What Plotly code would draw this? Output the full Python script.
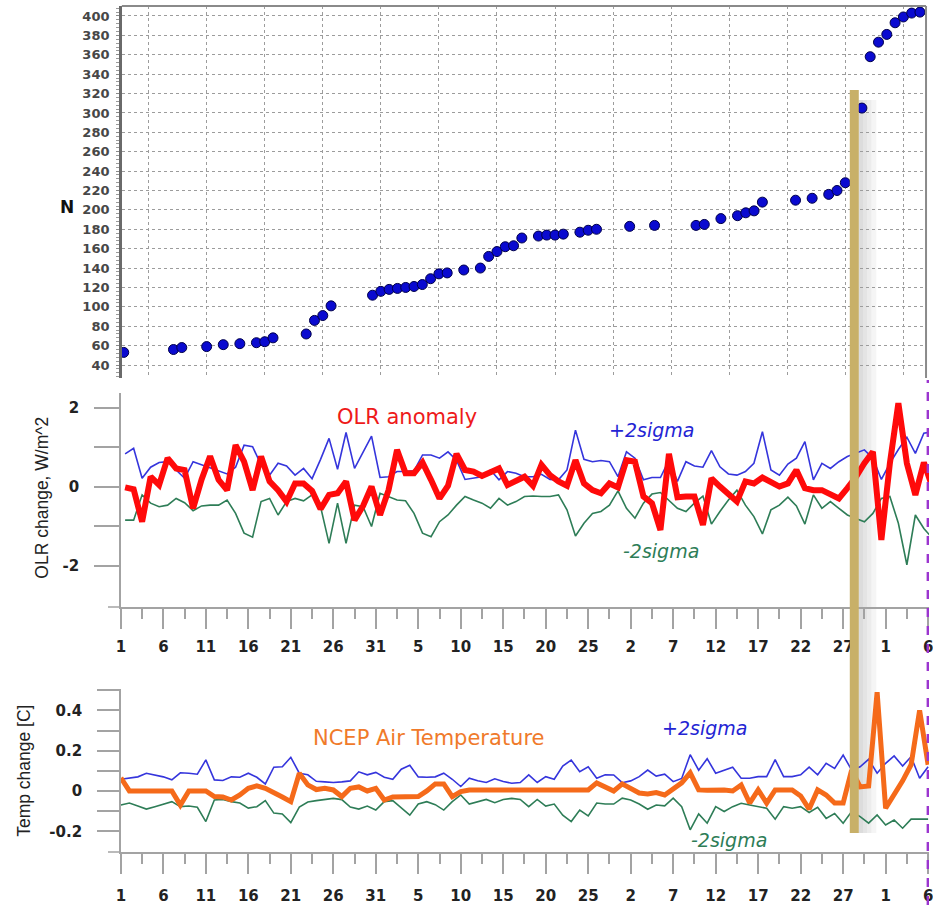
import pandas as pd
import plotly.graph_objects as go

START = "2011-01-01"
EVENT = "2011-03-28 07:30"      # marked event (gold bar)
LAST_TICK = "2011-04-06"        # dashed purple marker

# ---- cumulative event count N (day number, count) ----
count_day = [1, 7, 8, 11, 13, 15, 17, 18, 19,
             23, 24, 25, 26,
             31, 32, 33, 34, 35, 36, 37, 38, 39, 40,
             42, 44, 45, 46, 47, 48, 49,
             51, 52, 53, 54, 56, 57, 58,
             62, 65, 70, 71, 73, 75, 76, 77, 78,
             82, 84, 86, 87, 88,
             90, 91, 92, 93, 94, 95, 96, 97]
count_n = [53, 56, 58, 59, 61, 62, 63, 64, 68,
           72, 86, 91, 101,
           112, 116, 118, 119, 120, 121, 123, 129, 134, 135,
           138, 140, 152, 157, 162, 163, 171,
           173, 174, 174, 175, 177, 179, 180,
           183, 184, 184, 185, 191, 194, 197, 199, 208,
           210, 212, 216, 220, 228,
           305, 358, 373, 381, 393, 399, 403, 404]

# ---- daily OLR anomaly and +-2 sigma envelope, W/m^2 ----
olr_anomaly = [
    -0.01, -0.06, -0.88, 0.26, 0.05, 0.73, 0.47, 0.43, -0.54, 0.19,
    0.78, 0.18, -0.08, 1.06, 0.64, -0.08, 0.77, 0.14, -0.08, -0.37,
    0.09, 0.09, -0.10, -0.56, -0.20, -0.16, 0.14, -0.84, -0.48, 0.01,
    -0.71, -0.08, 0.94, 0.35, 0.35, 0.62, 0.18, -0.29, 0.03, 0.84,
    0.43, 0.39, 0.28, 0.39, 0.47, 0.05, 0.16, 0.26, 0.03, 0.56,
    0.30, 0.14, 0.03, 0.68, 0.09, -0.08, -0.16, 0.09, -0.01, 0.68,
    0.64, -0.24, -0.41, -1.09, 0.84, -0.26, -0.24, -0.24, -0.96, 0.22,
    0.01, -0.18, -0.37, 0.14, 0.09, 0.24, 0.14, 0.01, 0.09, 0.43,
    -0.03, -0.08, -0.08, -0.20, -0.29, -0.03, 0.25, 0.60, 0.89, -1.34,
    0.60, 2.12, 0.60, -0.20, 0.62, 0.00]
olr_plus2sigma = [
    0.84, 0.98, 0.22, 0.50, 0.62, 0.64, 0.43, 0.22, 0.64, 0.56,
    0.47, 0.41, 0.33, 0.50, 1.06, 1.02, 0.56, 0.30, 0.60, 0.53,
    0.30, 0.47, 0.21, 0.70, 1.23, 0.45, 1.38, 0.47, 0.90, 1.29,
    0.24, 0.26, 0.39, 0.39, 0.41, 0.81, 0.81, 0.73, 0.89, 0.68,
    0.19, 0.22, 0.26, 0.43, 0.18, 0.39, 0.35, 0.26, 0.26, 0.32,
    0.19, 0.18, 0.43, 1.44, 0.70, 0.64, 0.67, 0.64, 0.26, 0.89,
    0.73, 0.18, 0.24, 0.24, 0.68, 0.14, 0.64, 0.53, 0.50, 0.92,
    0.51, 0.33, 0.30, 0.39, 0.60, 1.40, 0.43, 0.30, 0.58, 0.73,
    1.15, 0.18, 0.60, 0.47, 0.64, 0.77, 0.85, 0.94, 0.73, 0.19,
    0.60, 0.95, 1.26, 0.85, 1.36, 1.40]
olr_minus2sigma = [
    -0.84, -0.84, -0.20, -0.41, -0.50, -0.46, -0.29, -0.40, -0.60, -0.48,
    -0.46, -0.46, -0.33, -0.67, -1.17, -1.27, -0.37, -0.29, -0.71, -0.37,
    -0.29, -0.35, -0.20, -0.50, -1.43, -0.41, -1.43, -0.46, -0.50, -1.00,
    -0.16, -0.24, -0.33, -0.35, -0.67, -1.17, -1.26, -0.88, -0.71, -0.46,
    -0.24, -0.33, -0.41, -0.54, -0.29, -0.46, -0.37, -0.24, -0.23, -0.24,
    -0.24, -0.20, -0.58, -1.24, -0.92, -0.67, -0.62, -0.46, -0.10, -0.54,
    -0.79, -0.41, -0.18, -0.14, -0.33, -0.54, -0.62, -0.41, -0.23, -0.94,
    -0.62, -0.33, -0.08, -0.46, -0.75, -1.19, -0.58, -0.46, -0.26, -0.48,
    -0.94, -0.20, -0.54, -0.37, -0.54, -0.71, -0.80, -0.88, -0.67, -0.29,
    -0.24, -0.92, -1.97, -0.71, -1.05, -1.30]

# ---- daily NCEP air temperature change and +-2 sigma envelope, C ----
air_temp = [
    0.065, 0.0, 0.0, 0.0, 0.0, 0.0, 0.0, -0.07, 0.0, 0.0,
    0.0, -0.028, -0.03, -0.045, -0.02, 0.013, 0.025, 0.013, -0.012, -0.03,
    -0.053, 0.088, 0.03, 0.007, 0.013, 0.005, -0.028, 0.013, 0.02, 0.0,
    0.013, -0.045, -0.03, -0.028, -0.028, -0.028, 0.0, 0.035, 0.035, -0.028,
    -0.003, 0.005, 0.005, 0.005, 0.005, 0.005, 0.005, 0.005, 0.005, 0.005,
    0.005, 0.003, 0.0, 0.0, 0.003, 0.005, 0.04, 0.02, 0.0, 0.035,
    0.013, -0.01, -0.015, -0.008, -0.02, 0.013, 0.04, 0.09, 0.005, 0.003,
    0.005, 0.005, 0.0, 0.03, -0.06, 0.005, -0.06, 0.005, 0.005, 0.005,
    -0.025, -0.09, 0.005, -0.02, -0.06, -0.06, 0.104, 0.02, 0.025, 0.49,
    -0.086, -0.02, 0.05, 0.13, 0.40, 0.13]
temp_plus2sigma = [
    0.058, 0.063, 0.07, 0.088, 0.08, 0.07, 0.055, 0.09, 0.088, 0.083,
    0.154, 0.055, 0.052, 0.07, 0.068, 0.088, 0.068, 0.035, 0.118, 0.12,
    0.167, 0.088, 0.08, 0.048, 0.045, 0.042, 0.045, 0.05, 0.095, 0.08,
    0.092, 0.068, 0.058, 0.108, 0.128, 0.07, 0.068, 0.07, 0.088, 0.058,
    0.022, 0.063, 0.051, 0.042, 0.06, 0.047, 0.038, 0.042, 0.08, 0.042,
    0.071, 0.058, 0.124, 0.153, 0.096, 0.12, 0.063, 0.08, 0.079, 0.041,
    0.05, 0.071, 0.104, 0.074, 0.083, 0.046, 0.062, 0.18, 0.103, 0.16,
    0.088, 0.104, 0.118, 0.063, 0.063, 0.071, 0.071, 0.155, 0.071, 0.071,
    0.08, 0.118, 0.08, 0.137, 0.112, 0.178, 0.104, 0.12, 0.157, 0.088,
    0.137, 0.174, 0.124, 0.17, 0.063, 0.12]
temp_minus2sigma = [
    -0.07, -0.06, -0.075, -0.09, -0.078, -0.065, -0.053, -0.078, -0.075, -0.081,
    -0.152, -0.045, -0.042, -0.053, -0.06, -0.085, -0.078, -0.048, -0.11, -0.114,
    -0.157, -0.08, -0.055, -0.048, -0.043, -0.037, -0.043, -0.08, -0.09, -0.075,
    -0.095, -0.053, -0.048, -0.085, -0.12, -0.065, -0.053, -0.068, -0.095, -0.053,
    -0.02, -0.065, -0.053, -0.042, -0.058, -0.042, -0.037, -0.042, -0.078, -0.042,
    -0.075, -0.065, -0.12, -0.152, -0.095, -0.124, -0.06, -0.065, -0.065, -0.036,
    -0.045, -0.065, -0.091, -0.07, -0.074, -0.036, -0.078, -0.193, -0.114, -0.16,
    -0.078, -0.102, -0.078, -0.061, -0.07, -0.078, -0.086, -0.14, -0.078, -0.086,
    -0.078, -0.107, -0.081, -0.136, -0.112, -0.16, -0.102, -0.127, -0.16, -0.119,
    -0.169, -0.144, -0.185, -0.14, -0.14, -0.14]

olr_ticks = [-2, -1, 0, 1, 2]
temp_ticks = [-0.2, -0.1, 0.0, 0.1, 0.2, 0.3, 0.4, 0.5]
count_ticks = list(range(40, 401, 20))

# ---------------------------------------------------------------------------
W, H = 933, 905
DAY_MS = 86400000
start = pd.Timestamp(START)


def px(x):
    return x / W


def py(y):
    return 1 - y / H


def when(days):
    return (start + pd.Timedelta(days=days)).strftime("%Y-%m-%d %H:%M:%S")


olr_days = pd.date_range(start, periods=len(olr_anomaly), freq="D")
temp_days = pd.date_range(start, periods=len(air_temp), freq="D")
count_dates = [start + pd.Timedelta(days=d - 1) for d in count_day]

BLUE, GREEN = "#3535dc", "#2e7d57"
AXIS = "#a3a3a3"
TICKFONT = dict(family="DejaVu Sans", size=15, color="#222222", weight="bold")

fig = go.Figure()

# top panel: cumulative number of events
fig.add_trace(go.Scatter(
    x=count_dates, y=count_n, xaxis="x", yaxis="y", mode="markers",
    marker=dict(size=10, color="#0a0ad0", line=dict(color="#00004a", width=1)),
    showlegend=False))

# middle panel: OLR
for ys, color, width in [(olr_minus2sigma, GREEN, 1.6),
                         (olr_plus2sigma, BLUE, 1.6),
                         (olr_anomaly, "#ff0a0a", 6)]:
    fig.add_trace(go.Scatter(
        x=olr_days, y=ys, xaxis="x2", yaxis="y2", mode="lines",
        xperiod=DAY_MS, xperiodalignment="middle",
        line=dict(color=color, width=width), showlegend=False))

# bottom panel: air temperature
for ys, color, width in [(temp_minus2sigma, GREEN, 1.6),
                         (temp_plus2sigma, BLUE, 1.6),
                         (air_temp, "#f56a1a", 5)]:
    fig.add_trace(go.Scatter(
        x=temp_days, y=ys, xaxis="x3", yaxis="y3", mode="lines",
        line=dict(color=color, width=width), showlegend=False))

day_axis = dict(
    type="date", range=[when(0), when((W - 117) / 8.58)],
    tick0=START, dtick=5 * DAY_MS, tickformat="%-d",
    ticks="outside", ticklen=20, tickwidth=1.5, tickcolor=AXIS,
    minor=dict(tick0=START, dtick=2.5 * DAY_MS, ticks="outside",
               ticklen=10, tickwidth=1.5, tickcolor=AXIS, showgrid=False),
    showline=True, linecolor=AXIS, linewidth=1.5,
    showgrid=False, zeroline=False, tickfont=TICKFONT,
    ticklabeloverflow="allow",
    domain=[px(117), 1])

fig.update_layout(
    width=W, height=H, margin=dict(l=0, r=0, t=0, b=0),
    paper_bgcolor="white", plot_bgcolor="white",
    font=dict(family="Liberation Sans"),
    xaxis=dict(
        type="date", domain=[px(118), px(930)], anchor="y",
        range=[when(3 - 27 / 8.375), when(3 + 785 / 8.375)],
        tick0="2011-01-04", dtick=7 * DAY_MS, showticklabels=False,
        ticks="", showgrid=True, gridcolor="#9c9c9c", griddash="dot",
        gridwidth=1, zeroline=False, showline=False),
    yaxis=dict(
        domain=[py(378), py(6)], anchor="x", range=[26.6, 410.3],
        tickvals=count_ticks, showgrid=True, gridcolor="#9c9c9c",
        griddash="dot", gridwidth=1, zeroline=False,
        showline=True, linecolor="#6a6a6a", linewidth=2.5,
        ticks="outside", ticklen=3, tickcolor="#8a8a8a",
        minor=dict(dtick=4, ticks="outside", ticklen=3, tickcolor="#9a9a9a"),
        ticklabelstandoff=4,
        tickfont=dict(family="DejaVu Sans", size=13, color="#474747",
                      weight="bold")),
    xaxis2=dict(day_axis, anchor="y2", ticklabelstandoff=5),
    yaxis2=dict(
        domain=[py(607), py(393)], anchor="x2", range=[-3.04, 2.38],
        tickvals=olr_ticks, ticktext=["-2", "", "0", "", "2"],
        ticks="outside", ticklen=25, tickwidth=1.5, tickcolor=AXIS,
        showline=True, linecolor=AXIS, linewidth=1.5,
        showgrid=False, zeroline=False, ticklabelstandoff=12,
        tickfont=TICKFONT),
    xaxis3=dict(day_axis, anchor="y3", ticklabelstandoff=9),
    yaxis3=dict(
        domain=[py(852), py(689)], anchor="x3", range=[-0.303, 0.506],
        tickvals=temp_ticks,
        ticktext=["-0.2", "", "0", "", "0.2", "", "0.4", ""],
        ticks="outside", ticklen=22, tickwidth=1.5, tickcolor=AXIS,
        showline=True, linecolor=AXIS, linewidth=1.5,
        showgrid=False, zeroline=False, ticklabelstandoff=12,
        tickfont=TICKFONT),
)

shapes = [
    # frame of the count panel
    dict(type="line", xref="paper", yref="paper", x0=px(118), x1=px(930),
         y0=py(6), y1=py(6), line=dict(color="#8a8a8a", width=2)),
    dict(type="line", xref="paper", yref="paper", x0=px(930), x1=px(930),
         y0=py(378), y1=py(6), line=dict(color="#8a8a8a", width=2)),
    # x-axis lines run a little past the y-axes
    dict(type="line", xref="paper", yref="paper", x0=px(104), x1=px(117),
         y0=py(607), y1=py(607), line=dict(color=AXIS, width=1.5)),
    dict(type="line", xref="paper", yref="paper", x0=px(104), x1=px(117),
         y0=py(852), y1=py(852), line=dict(color=AXIS, width=1.5)),
    # dashed marker at the right edge
    dict(type="line", xref="x2", yref="paper", x0=LAST_TICK, x1=LAST_TICK,
         y0=0, y1=py(380), line=dict(color="#9b35cf", width=3, dash="dash"),
         layer="above"),
]
# soft shadow to the right of the event bar
ev = pd.Timestamp(EVENT)
for k in (1.0, 1.5, 2.0, 2.6):
    shapes.append(dict(
        type="rect", xref="x2", yref="paper",
        x0=(ev + pd.Timedelta(days=0.5)).strftime("%Y-%m-%d %H:%M:%S"),
        x1=(ev + pd.Timedelta(days=k)).strftime("%Y-%m-%d %H:%M:%S"),
        y0=py(833), y1=py(100), fillcolor="#9a9a9a", opacity=0.1,
        line=dict(width=0), layer="between"))
shapes.append(dict(type="line", xref="x2", yref="paper", x0=EVENT, x1=EVENT,
                   y0=py(833), y1=py(90),
                   line=dict(color="#c8b068", width=9), layer="above"))
fig.update_layout(shapes=shapes)


def label(text, x, y, color, size, style="normal", weight="normal",
          family="DejaVu Sans", angle=0):
    fig.add_annotation(
        text=text, xref="paper", yref="paper", x=px(x), y=py(y),
        xanchor="center", yanchor="middle", showarrow=False, textangle=angle,
        font=dict(family=family, size=size, color=color, style=style,
                  weight=weight))


label("N", 63, 207, "#111111", 17, weight="bold")
label("OLR change, W/m^2", 37, 498, "#222222", 17.5,
      family="Liberation Sans", angle=-90)
label("Temp change [C]", 19, 771, "#222222", 17.5,
      family="Liberation Sans", angle=-90)
label("OLR anomaly", 406, 417, "#ee1a1a", 21)
label("+2sigma", 653, 430, "#2424d4", 19, style="italic")
label("-2sigma", 662, 551, GREEN, 19, style="italic")
label("NCEP Air Temperature", 428, 738, "#f07a2a", 21)
label("+2sigma", 706, 728, "#2424d4", 19, style="italic")
label("-2sigma", 731, 840, GREEN, 19, style="italic")

fig.write_html("out.html")
